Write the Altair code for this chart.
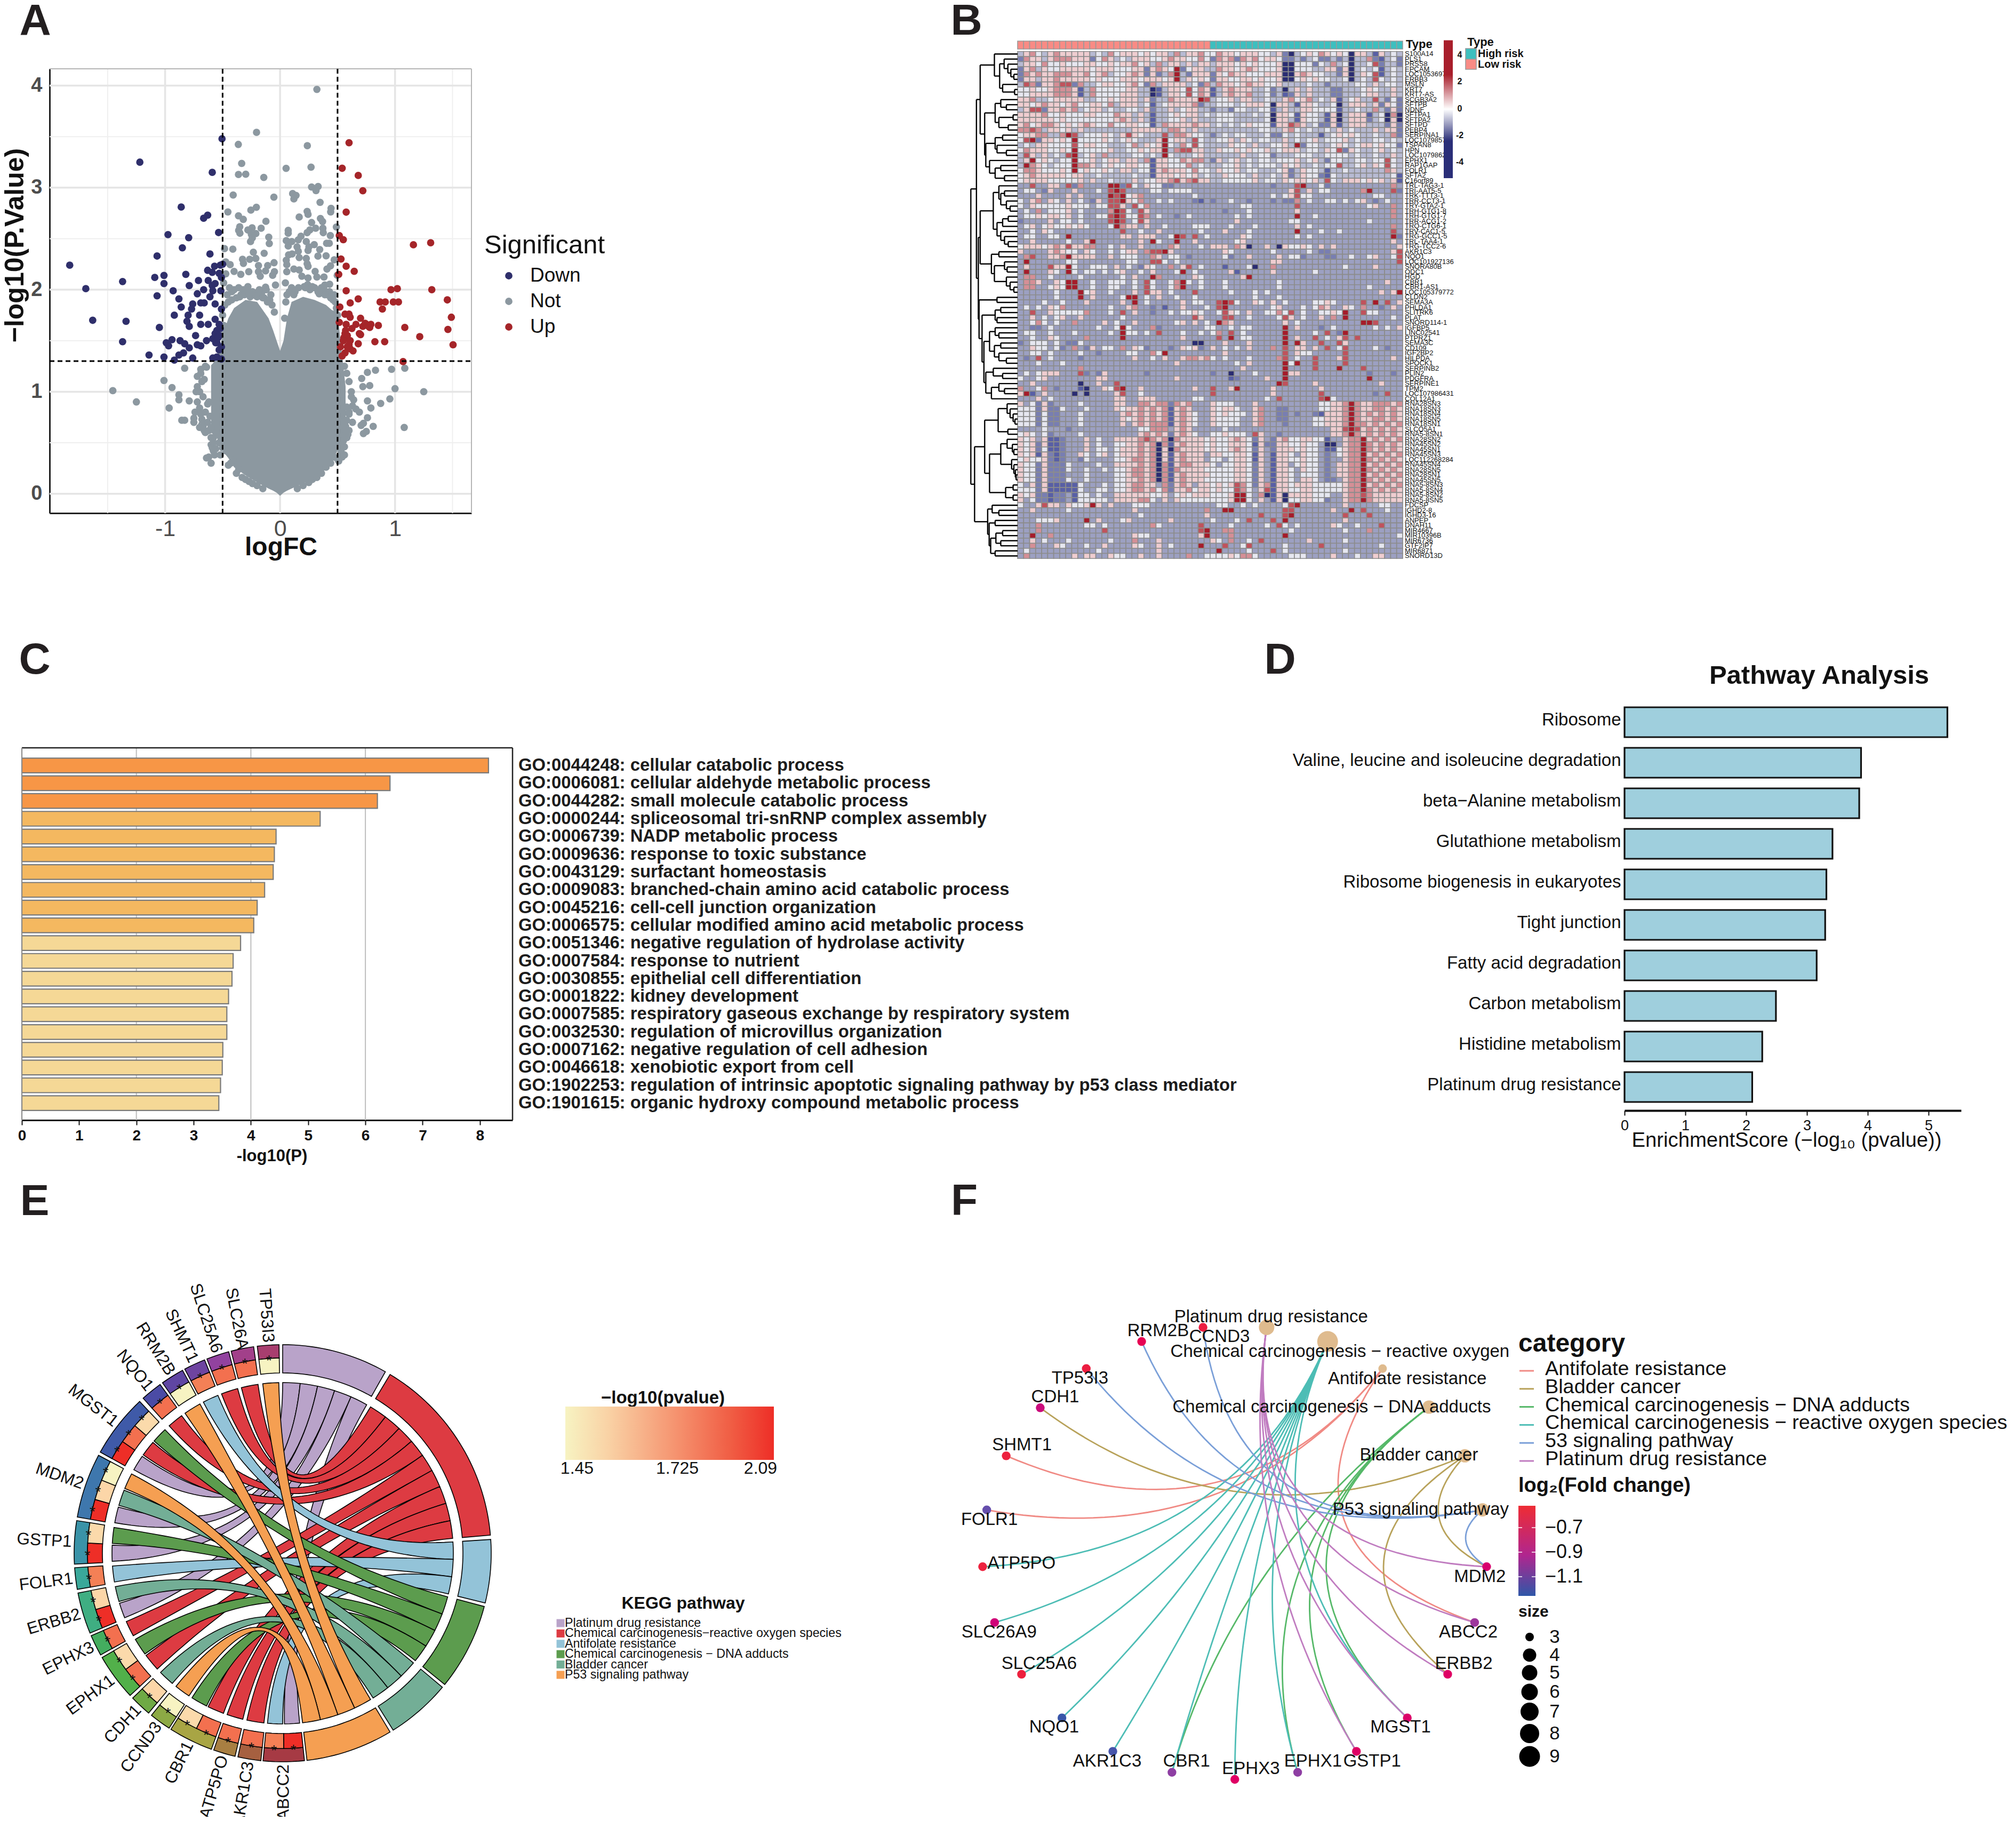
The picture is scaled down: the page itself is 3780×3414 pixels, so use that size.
import math
import altair as alt

W, H = 3764, 3398
FONT = "Liberation Sans"
INK = "#111111"
layers = []
ONE = alt.Data(values=[{"k": 1}])


def S(dom, a, b):
    return alt.Scale(domain=dom, range=[a - 8, b - 8], nice=False, zero=False)


def B(dom, a, b):
    return alt.Scale(domain=dom, range=[a - 8, b - 8], paddingInner=0, paddingOuter=0)


def label(s, x, y, size, bold=False, align="left", color=INK, angle=0):
    kw = {"angle": angle} if angle else {}
    layers.append(
        alt.Chart(alt.Data(values=[{"t": s}]))
        .mark_text(font=FONT, fontSize=size, fontWeight="bold" if bold else "normal",
                   align=align, baseline="middle", color=color, **kw)
        .encode(text="t:N", x=alt.value(x - 8), y=alt.value(y - 8))
    )


def line(x1, y1, x2, y2, color, width, dash=None):
    kw = {"strokeDash": dash} if dash else {}
    layers.append(
        alt.Chart(ONE).mark_rule(color=color, strokeWidth=width, **kw).encode(
            x=alt.value(x1 - 8), x2=alt.value(x2 - 8), y=alt.value(y1 - 8), y2=alt.value(y2 - 8))
    )


def grad(x1, y1, x2, y2, stops, vertical=False):
    g = alt.Gradient(gradient="linear", x1=0, y1=0, x2=0 if vertical else 1, y2=1 if vertical else 0,
                     stops=[alt.GradientStop(color=c, offset=o) for o, c in stops])
    layers.append(
        alt.Chart(ONE).mark_rect(color=g).encode(
            x=alt.value(x1 - 8), x2=alt.value(x2 - 8), y=alt.value(y1 - 8), y2=alt.value(y2 - 8))
    )


for s, x, y in [("A", 66, 40), ("B", 1812, 40), ("C", 65, 1238), ("D", 2400, 1238), ("E", 65, 2253), ("F", 1808, 2253)]:
    label(s, x, y, 82, True, "center", "#231f20")

# ------------------------------------------------------------------ A: volcano
A_major_x = [-1, 0, 1]
A_minor_x = [-1.5, -0.5, 0.5, 1.5]
A_major_y = [0, 1, 2, 3, 4]
A_minor_y = [0.5, 1.5, 2.5, 3.5]
down_x = [-1.83,-1.69,-1.63,-1.37,-1.34,-1.37,-1.22,-1.14,-1.09,-1.07,-1.07,-1.05,-1.01,-1.01,-1.01,-.99,-.97,-.94,-.975,-.93,-.92,-.92,-.88,-.86,-.85,-.86,-.87,-.88,-.84,-.82,-.795,-.79,-.81,-.8,-.83,-.79,-.79,-.76,-.76,-.77,-.735,-.72,-.71,-.7,-.69,-.72,-.69,-.665,-.63,-.665,-.69,-.66,-.625,-.64,-.61,-.63,-.59,-.625,-.59,-.61,-.565,-.59,-.535,-.505,-.57,-.52,-.5,-.53,-.51,-.585,-.565,-.515,-.565,-.51,-.53,-.585,-.55,-.565,-.53,-.55,-.51,-.53,-.585,-.55,-.51,-.56,-.54,-.52]
down_y = [2.24,2.01,1.70,2.08,1.69,1.49,3.25,1.36,2.12,2.33,1.94,1.63,2.14,2.06,1.34,1.48,1.45,1.51,2.54,1.99,1.75,1.31,1.91,2.81,2.41,1.83,1.5,1.36,1.38,2.15,2.51,2.04,1.69,1.75,1.47,1.64,1.43,1.33,1.86,1.81,1.55,1.96,2.09,1.75,1.66,1.46,1.45,2.7,2.73,2.0,1.87,1.87,1.66,1.5,2.35,2.19,2.17,2.09,2.04,1.93,2.06,3.15,2.56,3.48,2.23,2.24,2.25,2.16,2.12,1.99,1.86,1.99,1.71,1.81,1.66,1.52,1.6,1.57,1.55,1.48,1.44,1.41,1.33,1.34,1.32,1.48,1.53,1.62]
up_x = [.6,.54,.68,.72,.575,.515,.55,1.16,1.31,.53,.575,.645,.51,.575,.965,1.02,1.32,1.455,.68,.61,.87,.915,.89,.985,1.03,.52,1.49,.565,.6,.61,.7,1.46,1.085,.855,.79,.75,.72,.66,.78,.69,.7,.625,.515,.575,.565,.555,.585,1.215,.825,.91,.68,1.505,.61,.525,.585,.61,.635,.565,.54,1.07,.57,.55,.6,.74,.77]
up_y = [3.44,3.19,3.12,2.97,2.76,2.53,2.49,2.44,2.46,2.3,2.23,2.18,2.15,1.99,2.0,2.01,2.0,1.9,1.91,1.87,1.88,1.88,1.81,1.88,1.88,1.83,1.73,1.76,1.76,1.73,1.72,1.61,1.63,1.65,1.66,1.66,1.64,1.66,1.63,1.57,1.56,1.62,1.68,1.66,1.57,1.53,1.55,1.54,1.49,1.49,1.47,1.46,1.5,1.44,1.44,1.42,1.4,1.38,1.35,1.295,1.6,1.5,1.46,1.67,1.64]
# upper spray of the grey cloud, read as (logFC, -log10 P)
spray = [(790,108),(449,350),(346,418),(736,425),(365,525),(757,546),(616,553),(347,587),(388,586),(490,604),(760,658),(797,655),(785,678),(317,703),(547,715),(653,695),(672,705),(660,725),(808,744),(287,798),(448,772),(417,788),(735,795),(740,812),(870,778),(868,798),(347,820),(374,840),(690,827),(502,851),(810,835),(822,852),(760,858),(354,882),(348,902),(424,888),(400,900),(475,890),(355,918),(445,920),(420,925),(425,945),(415,965),(900,883),(783,890),(750,900),(735,915),(628,902),(628,918),(824,890),(826,915),(866,931),(518,940),(521,976),(700,935),(685,955),(730,965),(617,960),(648,965),(628,990),(775,982),(745,995),(740,1015),(678,995),(685,1020),(845,975),(860,975),(806,1010),(268,1005),(315,1008),(431,1025),(492,1031),(630,1040),(650,1035),(690,1055),(730,1060),(796,1047),(842,1045),(888,1068),(370,1065),(410,1065),(445,1060),(375,1088),(548,1084),(617,1070),(620,1095),(735,1090),(740,1105),(867,1102),(847,1120),(300,1095),(275,1080),(460,1100),(512,1100),(780,1133),(905,1155),(405,1135),(322,1133),(275,1147),(360,1150),(460,1135),(500,1130),(550,1135),(620,1135),(660,1120),(690,1125),(705,1160),(740,1170),(790,1165),(830,1165),(540,1155),(470,1160),(263,1198),(556,1210),(612,1198),(862,1205),(835,1210),(500,1222)]
spray_fc = [(p[0] / 3 - 194) / 216.5 for p in spray]
spray_lp = [(795 - p[1] / 3) / 191.5 for p in spray]
not_x = [-.48,-.46,-.44,-.42,-.4,-.38,-.36,-.34,-.32,-.3,-.28,-.26,-.24,-.22,-.2,-.18,-.16,-.14,-.12,-.1,-.08,-.07,-.05,-.45,-.42,-.35,-.31,-.27,-.19,-.15,-.11,-.09,-.21,-.5,-.49,-.47,-.52,-.51,
 .04,.05,.06,.08,.1,.13,.16,.21,.24,.26,.3,.33,.36,.38,.4,.41,.43,.44,.46,.47,.48,.49,.5,.12,.22,.28,.34,.39,
 -.83,-1.01,-.94,-1.455,-1.25,-.88,-.88,-.965,-.79,-.855,-.83,.83,.76,.97,1.085,.71,.72,.78,1.0,1.25,.955,.875,.76,.79,.66,.69,.76,.705,.725,.81,1.08,.75,.725,
 -.75,-.72,-.69,-.67,-.74,-.7,-.66,-.72,-.68,-.64,-.7,-.65,-.72,-.67,-.63,-.69,-.65,-.7,-.66,-.62,-.68,-.63,-.6,-.73,-.69,-.61,-.65,-.62,-.68,-.75,-.6,-.58,-.6,-.62,-.59,-.64,-.6,-.57,-.58,-.55,-.53,-.5,
 .56,.58,.6,.62,.64,.58,.6,.63,.56,.57,.6,.63,.59,.55,.56,.58,.53,.56,.54,.52,.51,
 -.58,-.56,-.52,-.47,-.45,-.43,-.41,-.38,-.36,-.33,-.3,-.27,-.24,-.2,-.15,.15,.2,.25,.28,.32,.36,.4,.44,.47,.5,.52,.55,.57,.56,.58,.6,.62,.58]
not_y = [1.85,1.95,2.02,1.98,2.0,1.92,2.02,1.95,2.0,1.98,2.03,1.93,1.98,1.95,1.93,2.0,1.97,1.92,2.0,1.9,1.95,1.85,1.78,1.88,1.9,1.93,1.95,1.97,1.98,1.92,1.88,1.9,1.94,1.75,1.65,1.6,1.4,1.55,
 1.72,1.88,1.95,1.98,2.02,1.98,2.02,2.03,2.05,2.0,2.02,1.98,2.02,2.0,1.98,1.95,1.98,1.92,1.9,1.95,1.88,1.82,1.75,1.95,2.02,2.03,1.96,1.95,
 1.23,1.11,1.04,1.01,.9,.97,.92,.84,.91,.72,.72,1.21,1.19,1.22,1.23,1.13,1.05,1.06,1.03,1.0,.93,.885,.91,.84,.83,.8,.745,.67,.69,.66,.65,.61,.59,
 .74,.9,1.22,.66,.8,1.0,.62,1.15,1.1,1.24,.65,.8,1.05,.95,.7,1.18,.6,.84,1.12,.62,.73,.88,.65,1.0,.78,.76,1.25,.9,.68,.7,.48,.42,.55,.36,.45,.35,.3,.38,.55,.6,.5,.45,
 1.25,1.18,1.1,1.0,.92,.85,.78,.86,.72,.66,.62,.7,.58,.52,.46,.55,.42,.38,.36,.36,.32,
 .5,.44,.38,.42,.28,.3,.33,.2,.24,.16,.14,.12,.1,.08,.05,.05,.08,.11,.14,.16,.2,.26,.3,.36,.34,.48,.52,.62,.68,.72,.8,.95,.55]
not_x = not_x + spray_fc
not_y = not_y + spray_lp
mass_x = [-0.6,-0.55,-0.5,-0.45,-0.4,-0.3,-0.2,-0.1,-0.06,-0.03,0,0.03,0.06,0.1,0.2,0.3,0.4,0.45,0.5,0.54,0.57]
mass_top = [1.26,1.32,1.55,1.72,1.82,1.9,1.88,1.72,1.6,1.5,1.4,1.5,1.72,1.88,1.93,1.9,1.85,1.8,1.78,1.35,1.05]
mass_low = [.6,.55,.42,.35,.26,.18,.11,.05,.03,.01,-.02,.01,.03,.05,.1,.16,.24,.32,.42,.5,.6]

ax = S([-2.005, 1.665], 93, 884)
ay = S([-0.19, 4.165], 962, 129)
TOP_A, BOT_A = 129 - 8, 962 - 8
layers.append(alt.Chart(alt.Data(values=[{"v": v} for v in A_minor_x])).mark_rule(color="#efefef", strokeWidth=2).encode(
    x=alt.X("v:Q", scale=ax, axis=None), y=alt.value(TOP_A), y2=alt.value(BOT_A)))
layers.append(alt.Chart(alt.Data(values=[{"v": v} for v in A_minor_y])).mark_rule(color="#efefef", strokeWidth=2).encode(
    y=alt.Y("v:Q", scale=ay, axis=None), x=alt.value(93 - 8), x2=alt.value(884 - 8)))
layers.append(alt.Chart(alt.Data(values=[{"v": v} for v in A_major_x])).mark_rule(color="#e5e5e5", strokeWidth=3.5).encode(
    x=alt.X("v:Q", scale=ax, axis=alt.Axis(orient="bottom", offset=-(H - BOT_A), values=A_major_x, grid=False, ticks=False, labelFlush=False,
            labelFont=FONT, labelFontSize=43, labelColor="#4d4d4d", labelPadding=8, domainColor="#222222", domainWidth=3,
            title=None, labelExpr="replace(datum.label,'−','-')")),
    y=alt.value(TOP_A), y2=alt.value(BOT_A)))
layers.append(alt.Chart(alt.Data(values=[{"v": v} for v in A_major_y])).mark_rule(color="#e5e5e5", strokeWidth=3.5).encode(
    y=alt.Y("v:Q", scale=ay, axis=alt.Axis(orient="left", offset=-(93 - 8), values=A_major_y, grid=False, ticks=False, labelFlush=False,
            labelFont=FONT, labelFontSize=38, labelFontWeight="bold", labelColor="#4d4d4d", labelPadding=14, domainColor="#222222",
            domainWidth=3, title=None)),
    x=alt.value(93 - 8), x2=alt.value(884 - 8)))
line(93, 129, 884, 129, "#b5b5b5", 2)
line(884, 129, 884, 962, "#b5b5b5", 2)
layers.append(alt.Chart(alt.Data(values=[{"x": a, "t": b, "l": c} for a, b, c in zip(mass_x, mass_top, mass_low)]))
              .mark_area(color="#8c98a0").encode(
    x=alt.X("x:Q", scale=ax, axis=None), y=alt.Y("t:Q", scale=ay, axis=None), y2="l:Q"))
for xs_, ys_, col in [(not_x, not_y, "#8c98a0"), (down_x, down_y, "#2f2f6b"), (up_x, up_y, "#a52529")]:
    layers.append(alt.Chart(alt.Data(values=[{"x": a, "y": b} for a, b in zip(xs_, ys_)]))
                  .mark_circle(size=190, color=col, opacity=1).encode(
        x=alt.X("x:Q", scale=ax, axis=None), y=alt.Y("y:Q", scale=ay, axis=None)))
dash = [9, 6]
layers.append(alt.Chart(alt.Data(values=[{"v": -0.5}, {"v": 0.5}])).mark_rule(color="black", strokeWidth=3, strokeDash=dash).encode(
    x=alt.X("v:Q", scale=ax, axis=None), y=alt.value(TOP_A), y2=alt.value(BOT_A)))
layers.append(alt.Chart(alt.Data(values=[{"v": 1.3}])).mark_rule(color="black", strokeWidth=3, strokeDash=dash).encode(
    y=alt.Y("v:Q", scale=ay, axis=None), x=alt.value(93 - 8), x2=alt.value(884 - 8)))
label("logFC", 527, 1027, 48, True, "center")
label("−log10(P.Value)", 29, 460, 50, True, "center", INK, 270)
label("Significant", 908, 460, 49)
for n, yy, col in [("Down", 517, "#2f2f6b"), ("Not", 565, "#8c98a0"), ("Up", 613, "#a52529")]:
    layers.append(alt.Chart(ONE).mark_circle(size=190, color=col, opacity=1).encode(x=alt.value(954 - 8), y=alt.value(yy - 8)))
    label(n, 994, yy, 37)

# ------------------------------------------------------------------ B: heatmap
row_names = ["S100A14","PLS1","PRSS8","EPCAM","LOC1053697","ERBB3","MSLN","KRT7","KRT7-AS","SCGB3A2","SFTPB","NDNF","SFTPA1","SFTPA2","SFTPD","PEBP4","SERPINA1","LOC1079857","TSPAN8","HPN","LOC1079862","EPHX1","RAP1GAP","FOLR1","SFTA2","C16orf89",
 "TRL-TAG3-1","TRI-AAT5-5","TRK-TTT3-1","TRR-CCT3-1","TRY-GTA2-1","TRH-GTG1-8","TRH-GTG1-7","TRR-ACG1-2","TRQ-CTG6-1","TRV-CAC1-5","TRG-GCC1-5","TRL-TAA4-1","TRG-TCC2-6",
 "AKR1C3","NQO1","LOC101927136","SNORA80B","ODC1","HGD","CBR1","CBR1-AS1","LOC105379772","CLDN2","SEMA3A","PHLDA1","SLITRK6","PLAT","SNORD114-1","IGFBP5","LINC02541","PTPRZ1","SEMA3C","CD109","IGF2BP2","HILPDA","SPOCK1","SERPINB2","PLIN2","PDGFRA","SERPINE1","TPM2","LOC107986431","COL12A1",
 "RNA28SN3","RNA18SN3","RNA18SN4","RNA18SN5","RNA18SN1","SLCO5A1","RNA5-8SN1","RNA28SN2","RNA45SN2","RNA45SN1","RNA45SN3","LOC112268284","RNA45SN4","RNA28SN5","RNA28SN1","RNA45SN5","RNA5-8SN3","RNA5-8SN4","RNA5-8SN2","RNA5-8SN5",
 "FDCSP","IGHD2-8","IGHD3-16","ANPEP","DNAH11","MIR4667","MIR10396B","MIR6736","GTF2IP7","MIR6871","SNORD13D"]
heat_rows = """
35643565 55553436 45554545 53635564 46554555 44352034 54654540 55315343
26553566 65552465 34355544 56554464 26562656 45542232 34223230 33621342
35546445 44455445 45564536 35535355 35554545 44450044 42436340 33472332
25635445 55554555 44455256 54824553 36554565 44450044 43355250 34341343
26565566 65564563 44565252 36832555 25465544 45550056 54433250 35471343
25535565 55554544 45554555 45835454 25544554 54450045 45443340 34374343
37625567 72633455 44564263 55553426 36554565 54453333 43323333 44353443
44544566 65136444 44553301 35547465 13565553 34230353 53332233 34543353
44555566 65136444 45553301 35547465 13565563 34231253 53332233 34553353
55633455 55533445 45553523 36555587 34453553 34335645 63435134 53373242
55456554 56445546 35553413 45555623 34443455 54055315 54334035 55352542
35772556 56345534 33443523 35345533 23324433 44135335 54444133 43363252
55556445 44455444 65535313 34545534 34443334 34055415 44315035 55134060
55555545 44444444 56535313 34453533 34443333 34055315 44315035 55234050
56456654 54565446 44554413 65555655 34343454 44155765 34225135 55333252
66763554 53533333 33355555 36653533 33333333 44335643 43343534 33353552
45566336 87344454 35754333 73665443 23434433 34224343 33134545 43343362
47825545 48444454 34543335 84553743 34453543 44335343 45344453 43344343
34355444 47455443 33463545 84364743 33354435 33445382 44334543 45545442
46555445 48444445 33445455 83677553 35445454 45345553 44354725 43345343
37535343 78345363 33344343 84333453 33333533 44233344 43344443 43343353
35845434 48445345 53553615 54465663 25345343 44344453 45324433 44344743
38654344 48665345 44554415 54446343 33445343 44435453 34344733 45354743
46654445 48454454 35534415 65554644 35445344 33345235 44313343 33333653
45655555 45533433 33343315 55454534 33544435 33435235 44214333 33333341
45555444 44535334 33353445 56756755 33444445 34435455 45374355 54545351
33733553 72633338 82743544 22333333 33333333 33233378 33423333 33333363
34432533 35333437 87333344 34444333 33333333 33333573 53443333 36833372
33353333 53533338 78456333 33333433 33333333 33434574 43333333 33344333
43563543 53432537 78546334 34333213 23343323 33232263 43344343 45323433
43544444 54443447 75374633 33333333 33333443 33333373 33333333 33453363
34363444 53433336 87437533 33333333 33233343 33333353 33333333 33333363
34454554 53433447 87447634 33234333 33334343 33333383 34333333 33333363
23333534 43433337 87347533 33333333 33335333 33333443 33333333 33433333
34534544 54543334 86553533 43333444 33343334 33333353 43333333 33333363
33435433 33333333 37334335 33333343 33533343 33333383 33433433 33333373
34433443 83333333 35535553 34873734 33333543 33333343 43333333 33333382
33533333 43358333 33335384 33833533 33334533 33333333 33333333 33333353
45554565 75566334 35335333 36533343 55536503 35305445 43535333 33333335
53333565 44354334 34553677 85333333 33543333 33433333 43223333 33333357
36733556 85555335 34443365 34432333 33423353 33353442 33322334 33453347
38333333 44333333 33443377 43433333 33333333 33553333 33333333 33333337
35333755 84334443 53432543 36357343 33133340 33633333 33333343 33353333
38333543 84344343 45334353 33483433 33351333 33533333 34333333 33333333
36633433 33433333 34353386 33333543 33333583 33333333 33333333 33333333
36653354 88334334 44343743 34684343 33433333 33343333 33333333 33333533
36633454 88334334 43343743 34683343 33433333 33343333 33333333 33433333
33333343 33845334 33353755 34333733 33343334 34333333 33333333 33335358
33333343 33835333 34883435 33433433 33333334 33343333 33333333 33333333
33334334 33353333 35383433 33353443 37874335 43534333 34454333 37383735
34343546 33333334 33563323 13353334 37833333 33453334 34653354 36332353
33733544 44463334 37353323 34344543 34754353 34464734 33445483 37443333
33534345 33533333 34333333 33333753 33773343 33347534 33536383 33333343
33464343 36333353 43353333 33453534 38653333 33335343 33333333 38873333
33223433 33333433 48433362 33333334 43343443 33338353 33234333 33343435
34433433 34333334 38443437 33343343 46373433 33338333 34373283 33333333
33433543 33363333 38333333 33353333 37383443 33338353 37343573 73333333
23444343 22433333 33333333 33333003 33533353 33338385 33733753 33333333
33544342 36325344 36354233 32354523 53434353 33637355 35373473 33343233
33443433 33433233 33443364 83333333 33533333 33337354 43333373 33333333
32373433 33233333 33353343 53356656 43433343 33367343 37333573 33333353
33343334 33333333 33333333 33533333 33334353 33338483 37333373 33333333
33333333 33633333 33333333 33333333 33333533 33338333 37333833 37333333
34345553 33723253 33333233 33333333 23303334 33338553 33333333 33233323
43345333 33333553 33333333 33533333 33312333 35338333 33333333 33833333
33533333 33033533 73333333 33333333 33333333 33387333 35333333 33335333
63346323 33103354 78335333 33333533 73358333 33533333 33533333 33333333
58135333 30303333 57334333 33333333 73333333 33533333 33733333 33323733
33353433 33333333 55335553 33333443 33333333 34373333 33784333 33333333
53425233 33433333 55336656 62656333 54443335 33333333 33445568 65566656
44425224 33343333 54556565 61565333 54554335 63322333 33445568 65566565
44424223 33433333 35656565 61565433 54544435 63322323 32155568 65656565
44424223 33433333 35456565 61565433 54444335 63322333 34455568 65566565
44424223 33433333 35356566 61565433 54444335 63332333 34455568 66565656
33334333 23333333 33334466 63565333 33433333 33333333 33335578 75656565
45434233 33433333 33335656 52565433 44544437 53323333 33335568 65656565
54535112 33353433 55556765 60655554 54456542 53256445 54413356 68565656
54525112 33353433 44556560 61565554 54455541 52255445 44300356 68656565
54524112 33353443 45556560 50655554 54456542 53255545 44311456 68656565
54515212 33543453 45556560 51565553 55445541 53155435 44323456 68565656
45445212 33243333 44566560 51565553 44345541 53155445 44323356 68656565
54425222 43333433 55556560 61566555 43445542 53155345 44323556 68565656
54425222 43343343 44566560 61655554 44445542 53155435 44323556 68656565
54425222 33343333 44566560 61565555 44445542 53155434 44323556 68565656
54425222 43343333 44556560 61565554 44445542 53155435 54322356 68656565
43525111 11433343 44566553 62565355 45457642 56155455 54444456 68565656
44425111 11433443 44566564 62556455 45447643 57155445 54444456 68656565
54522122 31443433 55555544 53454555 44458843 60150555 54443356 67655555
53422122 31444443 55556643 53544444 44458843 53150445 54423356 68655555
43357553 54458535 33344433 33333333 34433434 33334783 33333353 33334433
33533333 43333333 33353333 33333336 33883333 33337733 33335338 37333433
33333333 33333333 33334333 33333335 33333333 73337833 33333373 33733333
33344453 33383533 34533333 35333333 43334373 33738333 33333353 33333333
33363333 33344343 33333364 33333373 33343333 34374343 33335433 43337333
33363333 33333373 33333333 33333378 33663333 33333433 33333343 33633333
33833633 33333333 33354433 33333358 33363333 33338333 33333333 33333334
33534333 43333334 33363335 33333333 54363343 73333333 53333343 33333333
33633354 33343353 33354335 34333383 33733473 33334333 33733333 33334333
34333333 33333433 33333335 33333333 38333343 33734333 33333343 33333333
36333333 35355335 44335335 33336334 44454664 33333444 33335333 43355333
""".split("\n")
heat_rows = [r.replace(" ", "") for r in heat_rows if r.strip()]
CODE = [-3, -2.0, -1.5, -1.0, -0.2, 0.4, 1.05, 1.7, 2.8]
heat = []
for i, name in enumerate(row_names):
    r = (heat_rows[i] + "3" * 64)[:64]
    for j in range(64):
        v = CODE[int(r[j])]
        if r[j] == "3" and i < 26:
            v = -0.7
        heat.append({"r": name, "c": j, "v": v})
cols = list(range(64))
hx = B(cols, 1908, 2630)
hy = B(row_names, 96.5, 1047)
ax2 = B(cols, 1908, 2630)
layers.append(alt.Chart(alt.Data(values=heat)).mark_rect(stroke="#8c8c8c", strokeWidth=1.7).encode(
    x=alt.X("c:O", scale=hx, axis=None), y=alt.Y("r:N", scale=hy, axis=None),
    color=alt.Color("v:Q", legend=None, scale=alt.Scale(
        domain=[-3, -2, -1.1, -0.2, 0, 0.4, 1.05, 1.7, 2.8],
        range=["#2a2c72", "#585fa5", "#9398bc", "#e6e7f0", "#ffffff", "#efcdd0", "#d58f96", "#c0525c", "#a51c2a"]))))
types = [{"c": j, "col": "#f98b85" if j < 32 else "#3dbfbf"} for j in cols]
layers.append(alt.Chart(alt.Data(values=types)).mark_rect(stroke="#9a9a9a", strokeWidth=1.6).encode(
    x=alt.X("c:O", scale=ax2, axis=None), y=alt.value(77 - 8), y2=alt.value(92 - 8), color=alt.Color("col:N", scale=None)))
layers.append(alt.Chart(alt.Data(values=[{"r": n} for n in row_names])).mark_text(font=FONT, fontSize=13, align="left", baseline="middle", color=INK).encode(
    text="r:N", y=alt.Y("r:N", scale=hy, axis=None), x=alt.value(2634 - 8)))


def T(h, *kids):
    return (h, kids)


L = None
A_ = T(62, L, T(48, T(36, L, T(26, L, T(18, L, T(10, L, L)))), T(40, L, T(8, L, L))))
B_ = T(60, T(45, L, T(30, L, L)), T(50, T(12, L, L), T(25, L, L)))
C_ = T(85, T(60, T(40, L, L), T(55, L, T(30, L, L))), T(75, L, T(60, T(45, L, L), T(35, L, L))))
TOP_ = T(100, A_, T(88, B_, C_))
D_ = T(65, T(50, L, T(45, T(35, L, L), T(30, L, T(20, L, L)))), T(55, T(40, T(25, L, L), L), T(45, L, T(35, L, T(25, L, L)))))
E_ = T(70, T(50, L, L), T(62, T(35, L, T(28, L, L)), T(30, L, T(20, L, T(10, L, L)))))
F2_ = T(55, L, L)
G_ = T(95, T(60, T(45, L, L), T(55, L, L)), T(90, T(75, T(60, L, T(50, L, L)), T(62, T(45, L, L), T(50, L, T(30, L, L)))),
        T(85, T(65, L, T(40, L, L)), T(70, T(50, L, T(35, L, L)), L))))
R1_ = T(52, T(28, L, T(20, L, T(12, L, T(7, L, L)))), T(26, L, L))
R2_ = T(45, T(28, L, T(14, L, T(10, L, L))), T(16, L, T(10, L, T(6, L, T(4, L, L)))))
R3_ = T(32, T(12, L, L), T(12, L, L))
RNA_ = T(88, R1_, T(75, R2_, R3_))
TAIL_ = T(80, T(68, L, T(50, L, L)), T(76, T(60, L, L), T(72, T(58, T(40, L, L), T(45, L, L)), T(60, L, L))))
ROOT_ = T(125, T(110, TOP_, T(105, T(100, D_, E_), T(103, F2_, G_))), T(115, RNA_, TAIL_))
seg = []
cursor = [0]


def walk(n):
    if n is None:
        y = cursor[0]
        cursor[0] += 1
        return y, 0
    h, kids = n
    pos = [walk(k) for k in kids]
    ys = [p[0] for p in pos]
    for y, hk in pos:
        seg.append({"x": h, "x2": hk, "y": y, "y2": y})
    seg.append({"x": h, "x2": h, "y": min(ys), "y2": max(ys)})
    return (min(ys) + max(ys)) / 2, h


walk(ROOT_)
dx = S([0, 130], 1908, 1908 - 130 * 0.7015)
dy = S([-0.5, 99.5], 96.5, 1047)
layers.append(alt.Chart(alt.Data(values=seg)).mark_rule(color="black", strokeWidth=2.4).encode(
    x=alt.X("x:Q", scale=dx, axis=None), x2="x2:Q", y=alt.Y("y:Q", scale=dy, axis=None), y2="y2:Q"))
label("Type", 2636, 83, 22, True)
grad(2707, 75.5, 2724, 334, [(0, "#a81e2b"), (.25, "#a81e2b"), (.5, "#ffffff"), (.73, "#2a2e78"), (1, "#2a2e78")], True)
for s, yy in [("4", 102.5), ("2", 153), ("0", 204), ("-2", 253.6), ("-4", 304)]:
    label(s, 2737, yy, 16, True, "center")
label("Type", 2776, 79, 22, True, "center")
for col, a, b, s in [("#3dbfbf", 91, 111, "High risk"), ("#f98b85", 111, 130, "Low risk")]:
    layers.append(alt.Chart(ONE).mark_rect(color=col, stroke="#9a9a9a", strokeWidth=1.6).encode(
        x=alt.value(2748 - 8), x2=alt.value(2768 - 8), y=alt.value(a - 8), y2=alt.value(b - 8)))
    label(s, 2771, (a + b) / 2, 20, True)

# ------------------------------------------------------------------ C: GO bars
go_terms = ["GO:0044248: cellular catabolic process","GO:0006081: cellular aldehyde metabolic process","GO:0044282: small molecule catabolic process","GO:0000244: spliceosomal tri-snRNP complex assembly","GO:0006739: NADP metabolic process","GO:0009636: response to toxic substance","GO:0043129: surfactant homeostasis","GO:0009083: branched-chain amino acid catabolic process","GO:0045216: cell-cell junction organization","GO:0006575: cellular modified amino acid metabolic process","GO:0051346: negative regulation of hydrolase activity","GO:0007584: response to nutrient","GO:0030855: epithelial cell differentiation","GO:0001822: kidney development","GO:0007585: respiratory gaseous exchange by respiratory system","GO:0032530: regulation of microvillus organization","GO:0007162: negative regulation of cell adhesion","GO:0046618: xenobiotic export from cell","GO:1902253: regulation of intrinsic apoptotic signaling pathway by p53 class mediator","GO:1901615: organic hydroxy compound metabolic process"]
go_vals = [8.15,6.43,6.21,5.21,4.44,4.41,4.39,4.24,4.11,4.05,3.82,3.69,3.67,3.61,3.58,3.58,3.51,3.5,3.47,3.44]
go_cols = ["#f79646"]*3 + ["#f4b860"]*7 + ["#f5d896"]*10
cx_ = S([0, 8.57], 41, 961)
cy_ = B(go_terms, 1418.4, 2084.7)
layers.append(alt.Chart(alt.Data(values=[{"v": v} for v in [2, 4, 6]])).mark_rule(color="#bdbdbd", strokeWidth=2).encode(
    x=alt.X("v:Q", scale=cx_, axis=None), y=alt.value(1402 - 8), y2=alt.value(2100 - 8)))
layers.append(alt.Chart(alt.Data(values=[{"t": a, "v": b, "c": c} for a, b, c in zip(go_terms, go_vals, go_cols)]))
              .mark_bar(size=27.5, stroke="#7a7a7a", strokeWidth=2.2).encode(
    x=alt.X("v:Q", scale=cx_, stack=None, axis=alt.Axis(orient="bottom", offset=-(H - (2100 - 8)), values=list(range(9)), grid=False, tickColor="#111111", labelFlush=False,
            tickSize=9, tickWidth=2, labelFont=FONT, labelFontSize=28, labelFontWeight="bold", labelColor=INK, labelPadding=6, domainColor="#111111", domainWidth=3, title=None)),
    y=alt.Y("t:N", scale=cy_, axis=None), color=alt.Color("c:N", scale=None)))
layers.append(alt.Chart(alt.Data(values=[{"t": a} for a in go_terms])).mark_text(font=FONT, fontSize=32.8, fontWeight="bold", align="left", baseline="middle", color="#1c1c1c").encode(
    text="t:N", y=alt.Y("t:N", scale=cy_, axis=None), x=alt.value(972 - 8)))
line(41, 1402, 961, 1402, "#222222", 2.5)
line(961, 1402, 961, 2100, "#222222", 2.5)
line(41, 1402, 41, 2100, "#888888", 2)
label("-log10(P)", 510, 2168, 31, True, "center")

# ------------------------------------------------------------------ D: pathway bars
paths_d = ["Ribosome","Valine, leucine and isoleucine degradation","beta−Alanine metabolism","Glutathione metabolism","Ribosome biogenesis in eukaryotes","Tight junction","Fatty acid degradation","Carbon metabolism","Histidine metabolism","Platinum drug resistance"]
vals_d = [5.31,3.89,3.86,3.42,3.32,3.30,3.16,2.49,2.265,2.10]
dx_ = S([0, 5.535], 3046, 3677)
dy_ = B(paths_d, 1316, 2076)
layers.append(alt.Chart(alt.Data(values=[{"t": a, "v": b} for a, b in zip(paths_d, vals_d)]))
              .mark_bar(size=56, color="#9fcfdd", stroke="#111111", strokeWidth=3.2).encode(
    x=alt.X("v:Q", scale=dx_, stack=None, axis=alt.Axis(orient="bottom", offset=-(H - (2082 - 8)), values=[0,1,2,3,4,5], grid=False, tickColor="#111111", labelFlush=False,
            tickSize=9, tickWidth=2, labelFont=FONT, labelFontSize=27, labelColor=INK, labelPadding=6, domainColor="#111111", domainWidth=4, title=None)),
    y=alt.Y("t:N", scale=dy_, axis=alt.Axis(orient="left", offset=-(3046 - 8), domain=False, ticks=False, labelFont=FONT, labelFontSize=33, labelColor=INK,
            labelPadding=7, labelLimit=900, labelOffset=-4, title=None))))
label("Pathway Analysis", 3411, 1267, 49, True, "center")
label("EnrichmentScore (−log₁₀ (pvalue))", 3350, 2139, 38.3, False, "center")

# ------------------------------------------------------------------ E: chord
pathways = ["Platinum drug resistance","Chemical carcinogenesis−reactive oxygen species","Antifolate resistance","Chemical carcinogenesis − DNA adducts","Bladder cancer","P53 signaling pathway"]
path_span = [(0,29.5),(31,85),(86.2,103.8),(104.8,129),(130,148),(149,173.3)]
path_col = ["#b9a3c9","#dd3b42","#93c3d8","#5c9c4e","#73ae96","#f59f52"]
path_p = [2.09,1.83,1.8,1.58,1.6,1.45]
genes_e = [
 ("ABCC2",174,185.4,"#a63a44",[0,2]),("AKR1C3",186,192.4,"#a66040",[1]),("ATP5PO",193.2,199.3,"#a87f42",[1]),
 ("CBR1",200,212.4,"#a8a544",[1,3]),("CCND3",213,219,"#8ca945",[5]),("CDH1",220,226,"#6faa45",[4]),
 ("EPHX1",227,240,"#52b04a",[1,3]),("EPHX3",240.8,246.7,"#44ad5f",[1]),("ERBB2",247.5,259,"#3fae82",[0,4]),
 ("FOLR1",260,266,"#3aa89a",[2]),("GSTP1",267,279,"#3a93a8",[0,3]),("MDM2",280,298,"#3e77ad",[0,4,5]),
 ("MGST1",299,316.7,"#3f5aa8",[0,1,3]),("NQO1",318,324,"#4b4ba5",[1]),("RRM2B",324.8,331.3,"#5f46a3",[5]),
 ("SHMT1",332,338,"#6e44a0",[2]),("SLC25A6",338.7,345,"#92429f",[1]),("SLC26A9",345.7,352,"#a2408a",[1]),("TP53I3",353,359,"#a83e6f",[5])]
RPX = 391.0
ECX, ECY = 530, 2912


def pt(r, a):
    t = math.radians(a)
    return [r * math.sin(t), r * math.cos(t)]


def arc_pts(r, a, b, step=1.5):
    n = max(2, int(abs(b - a) / step) + 1)
    return [pt(r, a + (b - a) * i / (n - 1)) for i in range(n)]


def wedge(r1, r2, a, b, props):
    ring = arc_pts(r2, a, b) + arc_pts(r1, b, a)
    ring.append(ring[0])
    return {"type": "Feature", "geometry": {"type": "Polygon", "coordinates": [ring]}, "properties": props}


def bez(p0, p1, n=40):
    out = []
    for i in range(1, n):
        t = i / n
        out.append([(1 - t) ** 2 * p0[0] + t * t * p1[0], (1 - t) ** 2 * p0[1] + t * t * p1[1]])
    return out


def ribbon(r, a1, a2, b1, b2, props):
    ring = arc_pts(r, a1, a2) + bez(pt(r, a2), pt(r, b1)) + arc_pts(r, b1, b2) + bez(pt(r, b2), pt(r, a1))
    ring.append(ring[0])
    return {"type": "Feature", "geometry": {"type": "Polygon", "coordinates": [ring]}, "properties": props}


def geo(features, **mk):
    return alt.Chart(alt.Data(values=features)).mark_geoshape(**mk).project(
        type="identity", reflectY=True, scale=1.0, translate=[ECX - 8, ECY - 8])


# labels first: the ring paints over the ends, as in the picture
e_labels = []
for n, a, b, c, pw in genes_e:
    m = (a + b) / 2
    p = pt(372 if n == "SLC26A9" else 396, m)
    e_labels.append({"t": n, "x": p[0], "y": -p[1], "a": (m + 90) % 360})
lx = S([-RPX, RPX], ECX - RPX, ECX + RPX)
ly = S([-RPX, RPX], ECY - RPX, ECY + RPX)
layers.append(alt.Chart(alt.Data(values=e_labels)).mark_text(font=FONT, fontSize=31.5, align="right", baseline="middle", color=INK).encode(
    text="t:N", x=alt.X("x:Q", scale=lx, axis=None), y=alt.Y("y:Q", scale=ly, axis=None), angle=alt.Angle("a:Q", scale=None)))

ribbons = {i: [] for i in range(6)}
member = {i: [g for g in genes_e if i in g[4]] for i in range(6)}
for i in range(6):
    a, b = path_span[i]
    ms = list(reversed(member[i]))
    k = len(ms)
    for s, g in enumerate(ms):
        a1 = a + (b - a) * s / k
        a2 = a + (b - a) * (s + 1) / k
        slot = g[4].index(i)
        q = len(g[4])
        b1 = g[1] + (g[2] - g[1]) * slot / q
        b2 = g[1] + (g[2] - g[1]) * (slot + 1) / q
        ribbons[i].append(ribbon(320, a1, a2, b1 + 0.3, b2 - 0.3, {"col": path_col[i]}))
all_r = []
for i in [0, 1, 2, 3, 4, 5]:
    all_r += ribbons[i]
layers.append(geo(all_r, stroke="black", strokeWidth=1.6).encode(color=alt.Color("properties.col:N", scale=None)))
ring_p = [wedge(338, 391, path_span[i][0], path_span[i][1], {"col": path_col[i]}) for i in range(6)]
ring_g = [wedge(366, 391, g[1], g[2], {"col": g[3]}) for g in genes_e]
layers.append(geo(ring_p + ring_g, stroke="black", strokeWidth=1.6).encode(color=alt.Color("properties.col:N", scale=None)))
cells = []
stars = []
for g in genes_e:
    q = len(g[4])
    for s, i in enumerate(g[4]):
        a = g[1] + (g[2] - g[1]) * s / q
        b = g[1] + (g[2] - g[1]) * (s + 1) / q
        cells.append(wedge(338, 366, a, b, {"p": path_p[i]}))
        p = pt(366, (a + b) / 2)
        stars.append({"x": p[0], "y": -p[1], "s": "*"})
layers.append(geo(cells, stroke="black", strokeWidth=1.6).encode(
    color=alt.Color("properties.p:Q", legend=None, scale=alt.Scale(domain=[1.45, 1.6, 1.83, 2.09], range=["#f7f3c2", "#fcd6a8", "#f3704f", "#ee2e27"]))))
layers.append(alt.Chart(alt.Data(values=stars)).mark_text(font=FONT, fontSize=28, align="center", baseline="middle", dy=5, color="#111111").encode(
    text="s:N", x=alt.X("x:Q", scale=lx, axis=None), y=alt.Y("y:Q", scale=ly, axis=None)))

label("−log10(pvalue)", 1243, 2621, 33, True, "center")
grad(1060, 2637, 1451, 2737, [(0, "#f7f3c2"), (.2, "#f9d3a6"), (.55, "#f58f6c"), (.8, "#f05c43"), (1, "#ee2e27")])
for s, x in [("1.45", 1082), ("1.725", 1270), ("2.09", 1426)]:
    label(s, x, 2753, 32, False, "center")
label("KEGG pathway", 1281, 3006, 32, True, "center")
ley = S([0, 5], 3043, 3140)
layers.append(alt.Chart(alt.Data(values=[{"i": i, "c": path_col[i], "t": pathways[i]} for i in range(6)]))
              .mark_square(size=225, opacity=1).encode(x=alt.value(1051 - 8), y=alt.Y("i:Q", scale=ley, axis=None), color=alt.Color("c:N", scale=None)))
layers.append(alt.Chart(alt.Data(values=[{"i": i, "t": pathways[i]} for i in range(6)]))
              .mark_text(font=FONT, fontSize=23.2, align="left", baseline="middle", color=INK).encode(
    x=alt.value(1059 - 8), y=alt.Y("i:Q", scale=ley, axis=None), text="t:N"))

# ------------------------------------------------------------------ F: network
f_genes = {"CCND3":(678,108,-.56),"RRM2B":(514,150,-.62),"TP53I3":(366,230,-.56),"CDH1":(243,346,-.78),"SHMT1":(152,488,-.55),"FOLR1":(100,648,-1.12),"ATP5PO":(89,816,-.55),"SLC26A9":(121,981,-.76),"SLC25A6":(193,1134,-.55),"NQO1":(301,1263,-1.23),"AKR1C3":(437,1362,-1.2),"CBR1":(595,1424,-1.0),"EPHX3":(763,1445,-.68),"EPHX1":(931,1424,-1.0),"GSTP1":(1088,1362,-.68),"MGST1":(1224,1263,-.7),"ERBB2":(1332,1134,-.68),"ABCC2":(1404,981,-.95),"MDM2":(1436,816,-.72)}
f_gene_lab = {"RRM2B":(558,118),"CCND3":(722,135),"TP53I3":(349,258),"CDH1":(283,314),"SHMT1":(194,456),"FOLR1":(107,677),"ATP5PO":(193,806),"SLC26A9":(133,1010),"SLC25A6":(240,1102),"NQO1":(280,1291),"AKR1C3":(422,1391),"CBR1":(634,1392),"EPHX3":(806,1414),"EPHX1":(972,1392),"GSTP1":(1130,1391),"MGST1":(1206,1291),"ERBB2":(1375,1102),"ABCC2":(1387,1010),"MDM2":(1418,845)}
f_paths = {"Platinum":(848,108,5,"Platinum drug resistance",860,77),"ROS":(1011,150,9,"Chemical carcinogenesis − reactive oxygen",1044,180),"Antifolate":(1158,230,3,"Antifolate resistance",1224,260),"DNA":(1282,344,4,"Chemical carcinogenesis − DNA adducts",1022,344),"Bladder":(1378,488,4,"Bladder cancer",1255,486),"P53":(1425,648,4,"P53 signaling pathway",1260,647)}
f_edges = {"Antifolate":("#f08a84",["SHMT1","FOLR1","ABCC2"]),"Bladder":("#b8a25a",["CDH1","ERBB2","MDM2"]),"DNA":("#55b868",["CBR1","EPHX1","GSTP1","MGST1"]),
           "ROS":("#4dbdb5",["ATP5PO","SLC26A9","SLC25A6","NQO1","AKR1C3","CBR1","EPHX3","EPHX1","MGST1"]),"P53":("#7a9fd8",["TP53I3","RRM2B","CCND3","MDM2"]),"Platinum":("#c07cc0",["MDM2","ABCC2","ERBB2","GSTP1","MGST1"])}
CTR = (763, 776)
fx = alt.Scale(domain=[0, 1568], range=[1780 - 8, 2880 - 8], nice=False, zero=False)
fy = alt.Scale(domain=[0, 1568], range=[2420 - 8, 3414 - 8], nice=False, zero=False)
edge_rows = []
for p, (col, gl) in f_edges.items():
    px, py = f_paths[p][:2]
    for g in gl:
        gx, gy = f_genes[g][:2]
        mx, my = (px + gx) / 2, (py + gy) / 2
        chord = math.hypot(px - gx, py - gy)
        dc = math.hypot(CTR[0] - mx, CTR[1] - my) or 1
        off = min(dc, chord * 0.6)
        cx2, cy2 = mx + (CTR[0] - mx) / dc * off, my + (CTR[1] - my) / dc * off
        for i in range(41):
            t = i / 40
            edge_rows.append({"e": p + g, "i": i, "c": col,
                              "x": (1 - t) ** 2 * gx + 2 * t * (1 - t) * cx2 + t * t * px,
                              "y": (1 - t) ** 2 * gy + 2 * t * (1 - t) * cy2 + t * t * py})
layers.append(alt.Chart(alt.Data(values=edge_rows)).mark_line(strokeWidth=2.8, strokeCap="round").encode(
    x=alt.X("x:Q", scale=fx, axis=None), y=alt.Y("y:Q", scale=fy, axis=None), detail="e:N", order="i:Q", color=alt.Color("c:N", scale=None)))
SIZE_D = [3, 4, 5, 6, 7, 8, 9]
SIZE_R = [256, 625, 841, 961, 1156, 1296, 1521]
layers.append(alt.Chart(alt.Data(values=[{"x": v[0], "y": v[1], "n": v[2]} for v in f_paths.values()])).mark_circle(color="#dfbb8e", opacity=1).encode(
    x=alt.X("x:Q", scale=fx, axis=None), y=alt.Y("y:Q", scale=fy, axis=None),
    size=alt.Size("n:Q", legend=None, scale=alt.Scale(domain=SIZE_D, range=SIZE_R))))
layers.append(alt.Chart(alt.Data(values=[{"x": v[0], "y": v[1], "l": v[2]} for v in f_genes.values()])).mark_circle(size=270, opacity=1).encode(
    x=alt.X("x:Q", scale=fx, axis=None), y=alt.Y("y:Q", scale=fy, axis=None),
    color=alt.Color("l:Q", legend=None, scale=alt.Scale(domain=[-1.25, -0.88, -0.52], range=["#2f57a8", "#b0268f", "#ee2c34"]))))
flab = [{"t": k, "x": v[0], "y": v[1]} for k, v in f_gene_lab.items()] + [{"t": v[3], "x": v[4], "y": v[5]} for v in f_paths.values()]
layers.append(alt.Chart(alt.Data(values=flab)).mark_text(font=FONT, fontSize=33, align="center", baseline="middle", color=INK).encode(
    text="t:N", x=alt.X("x:Q", scale=fx, axis=None), y=alt.Y("y:Q", scale=fy, axis=None)))

label("category", 2847, 2520, 48, True)
f_leg = ["Antifolate resistance","Bladder cancer","Chemical carcinogenesis − DNA adducts","Chemical carcinogenesis − reactive oxygen species","53 signaling pathway","Platinum drug resistance"]
f_leg_c = ["#f08a84","#b8a25a","#55b868","#4dbdb5","#7a9fd8","#c07cc0"]
fly = S([0, 5], 2570, 2739)
fly2 = S([0, 5], 2567, 2736)
layers.append(alt.Chart(alt.Data(values=[{"i": i, "c": f_leg_c[i]} for i in range(6)])).mark_rule(strokeWidth=3).encode(
    x=alt.value(2849 - 8), x2=alt.value(2876 - 8), y=alt.Y("i:Q", scale=fly, axis=None), color=alt.Color("c:N", scale=None)))
layers.append(alt.Chart(alt.Data(values=[{"i": i, "t": f_leg[i]} for i in range(6)])).mark_text(font=FONT, fontSize=37.8, align="left", baseline="middle", color=INK).encode(
    x=alt.value(2897 - 8), y=alt.Y("i:Q", scale=fly2, axis=None), text="t:N"))
label("log₂(Fold change)", 2847, 2786, 38, True)
grad(2847, 2823, 2879, 2992, [(0, "#ee2c34"), (.55, "#b0268f"), (1, "#2f57a8")], True)
for s, yy in [("−0.7", 2864), ("−0.9", 2910), ("−1.1", 2956)]:
    line(2847, yy, 2854, yy, "#ffffff", 1.5)
    line(2872, yy, 2879, yy, "#ffffff", 1.5)
    label(s, 2897, yy, 36)
label("size", 2847, 3022, 30, True)
fsy = alt.Scale(domain=SIZE_D, range=[3069 - 8, 3103 - 8, 3136 - 8, 3172 - 8, 3209 - 8, 3250 - 8, 3293 - 8], nice=False, zero=False)
layers.append(alt.Chart(alt.Data(values=[{"n": n} for n in SIZE_D])).mark_circle(color="black", opacity=1).encode(
    x=alt.value(2868 - 8), y=alt.Y("n:Q", scale=fsy, axis=None),
    size=alt.Size("n:Q", legend=None, scale=alt.Scale(domain=SIZE_D, range=SIZE_R))))
layers.append(alt.Chart(alt.Data(values=[{"n": n} for n in SIZE_D])).mark_text(font=FONT, fontSize=35, align="center", baseline="middle", color=INK).encode(
    x=alt.value(2915 - 8), y=alt.Y("n:Q", scale=fsy, axis=None), text="n:N"))

chart = (
    alt.layer(*layers)
    .resolve_scale(x="independent", y="independent", color="independent", size="independent")
    .resolve_axis(x="independent", y="independent")
    .properties(width=W, height=H, padding=0, autosize=alt.AutoSizeParams(type="none"), background="white")
    .configure_view(stroke=None)
)
chart.save("out.html", embed_options={"renderer": "svg", "actions": False})
